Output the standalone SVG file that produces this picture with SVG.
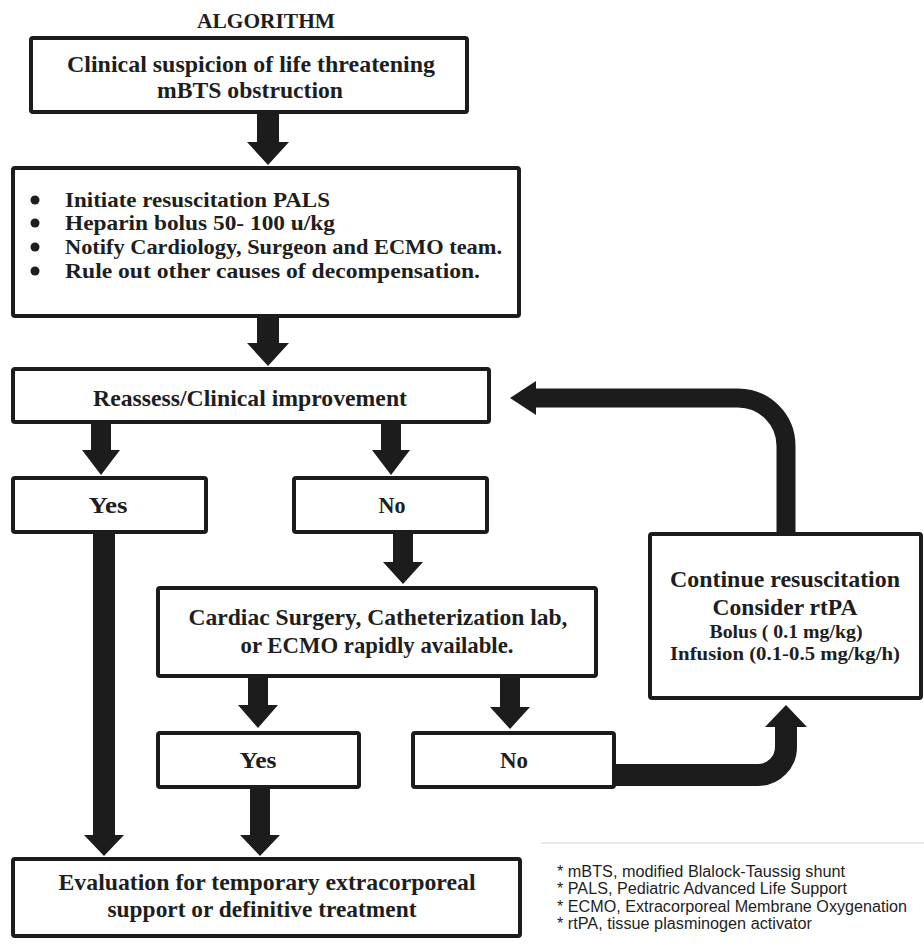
<svg xmlns="http://www.w3.org/2000/svg" width="924" height="947" viewBox="0 0 924 947">
<style>
.box{fill:#fff;stroke:#1c1c1c;stroke-width:4;}
.t{font-family:"Liberation Serif","Times New Roman",serif;font-weight:bold;font-size:23.5px;fill:#1e1e1e;text-anchor:middle;}
.tl{text-anchor:start;font-size:21.5px;}
.s{font-size:19px;}
.arr{fill:#1c1c1c;}
.curve{fill:none;stroke:#1c1c1c;}
.leg{font-family:"Liberation Sans",Arial,sans-serif;font-size:16px;fill:#1e1e1e;}
</style>
<rect width="924" height="947" fill="#fff"/>
<text class="t" x="266" y="28" textLength="138" lengthAdjust="spacingAndGlyphs" style="font-size:21px">ALGORITHM</text>

<g id="connectors">
<polygon class="arr" points="257,113 279,113 279,142 289,142 268,165 247,142 257,142"/>
<polygon class="arr" points="257,317 279,317 279,343 289,343 268,366 247,343 257,343"/>
<polygon class="arr" points="91,423 111,423 111,450 120,450 101,475 82,450 91,450"/>
<polygon class="arr" points="381,423 401,423 401,450 410,450 391,475 372,450 381,450"/>
<polygon class="arr" points="93,533 115,533 115,835 124,835 104,856 84,835 93,835"/>
<polygon class="arr" points="393,533 413,533 413,562 423,562 403,584 383,562 393,562"/>
<polygon class="arr" points="248,677 268,677 268,705 278,705 258,728 238,705 248,705"/>
<polygon class="arr" points="500,677 520,677 520,707 530,707 510,729 490,707 500,707"/>
<polygon class="arr" points="250,788 270,788 270,835 280,835 260,856 240,835 250,835"/>
<path class="curve" d="M786 535 V446 A48 48 0 0 0 738 398 H530" stroke-width="19"/>
<polygon class="arr" points="536,381 536,415 510,398"/>
<path class="curve" d="M612 775 H758 A28 28 0 0 0 786 747 V725" stroke-width="22"/>
<polygon class="arr" points="765,727 807,727 786,705"/>
</g>

<g id="n1">
<rect class="box" x="31" y="38" width="436" height="74" rx="2"/>
<text class="t" x="251" y="72" textLength="368" lengthAdjust="spacingAndGlyphs">Clinical suspicion of life threatening</text>
<text class="t" x="250" y="98" textLength="186" lengthAdjust="spacingAndGlyphs">mBTS obstruction</text>
</g>

<g id="n2">
<rect class="box" x="13" y="168" width="506" height="148" rx="2"/>
<circle cx="35" cy="200" r="4.5" fill="#1e1e1e"/>
<circle cx="35" cy="223" r="4.5" fill="#1e1e1e"/>
<circle cx="35" cy="247" r="4.5" fill="#1e1e1e"/>
<circle cx="35" cy="271" r="4.5" fill="#1e1e1e"/>
<text class="t tl" x="65" y="207" textLength="265" lengthAdjust="spacingAndGlyphs">Initiate resuscitation PALS</text>
<text class="t tl" x="65" y="230" textLength="270" lengthAdjust="spacingAndGlyphs">Heparin bolus 50- 100 u/kg</text>
<text class="t tl" x="65" y="254" textLength="437" lengthAdjust="spacingAndGlyphs">Notify Cardiology, Surgeon and ECMO team.</text>
<text class="t tl" x="65" y="278" textLength="415" lengthAdjust="spacingAndGlyphs">Rule out other causes of decompensation.</text>
</g>

<g id="n3">
<rect class="box" x="13" y="369" width="476" height="53" rx="2"/>
<text class="t" x="250" y="406" textLength="314" lengthAdjust="spacingAndGlyphs">Reassess/Clinical improvement</text>
</g>

<g id="n4">
<rect class="box" x="13" y="478" width="193" height="54" rx="2"/>
<text class="t" x="108" y="513" textLength="39" lengthAdjust="spacingAndGlyphs">Yes</text>
</g>

<g id="n5">
<rect class="box" x="294" y="478" width="193" height="54" rx="2"/>
<text class="t" x="392" y="513" textLength="27" lengthAdjust="spacingAndGlyphs">No</text>
</g>

<g id="n6">
<rect class="box" x="158" y="588" width="438" height="88" rx="2"/>
<text class="t" x="378" y="625" textLength="379" lengthAdjust="spacingAndGlyphs">Cardiac Surgery, Catheterization lab,</text>
<text class="t" x="377" y="653" textLength="273" lengthAdjust="spacingAndGlyphs">or ECMO rapidly available.</text>
</g>

<g id="n7">
<rect class="box" x="158" y="733" width="201" height="54" rx="2"/>
<text class="t" x="258" y="768" textLength="37" lengthAdjust="spacingAndGlyphs">Yes</text>
</g>

<g id="n8">
<rect class="box" x="413" y="733" width="201" height="54" rx="2"/>
<text class="t" x="514" y="768" textLength="28" lengthAdjust="spacingAndGlyphs">No</text>
</g>

<g id="n9">
<rect class="box" x="650" y="534" width="271" height="164" rx="2"/>
<text class="t" x="785" y="587" textLength="230" lengthAdjust="spacingAndGlyphs">Continue resuscitation</text>
<text class="t" x="785" y="615" textLength="145" lengthAdjust="spacingAndGlyphs">Consider rtPA</text>
<text class="t s" x="786" y="638" textLength="153" lengthAdjust="spacingAndGlyphs">Bolus ( 0.1 mg/kg)</text>
<text class="t s" x="785" y="660" textLength="230" lengthAdjust="spacingAndGlyphs">Infusion (0.1-0.5 mg/kg/h)</text>
</g>

<g id="n10">
<rect class="box" x="13" y="859" width="507" height="77" rx="2"/>
<text class="t" x="267" y="890" textLength="417" lengthAdjust="spacingAndGlyphs">Evaluation for temporary extracorporeal</text>
<text class="t" x="262" y="917" textLength="309" lengthAdjust="spacingAndGlyphs">support or definitive treatment</text>
</g>

<g id="legend">
<line x1="541" y1="843" x2="924" y2="843" stroke="#e2e2e2" stroke-width="1.5"/>
<text class="leg" x="557" y="877" textLength="288" lengthAdjust="spacingAndGlyphs">* mBTS, modified Blalock-Taussig shunt</text>
<text class="leg" x="557" y="894" textLength="290" lengthAdjust="spacingAndGlyphs">* PALS, Pediatric Advanced Life Support</text>
<text class="leg" x="557" y="912" textLength="350" lengthAdjust="spacingAndGlyphs">* ECMO, Extracorporeal Membrane Oxygenation</text>
<text class="leg" x="557" y="929" textLength="255" lengthAdjust="spacingAndGlyphs">* rtPA, tissue plasminogen activator</text>
</g>
</svg>
